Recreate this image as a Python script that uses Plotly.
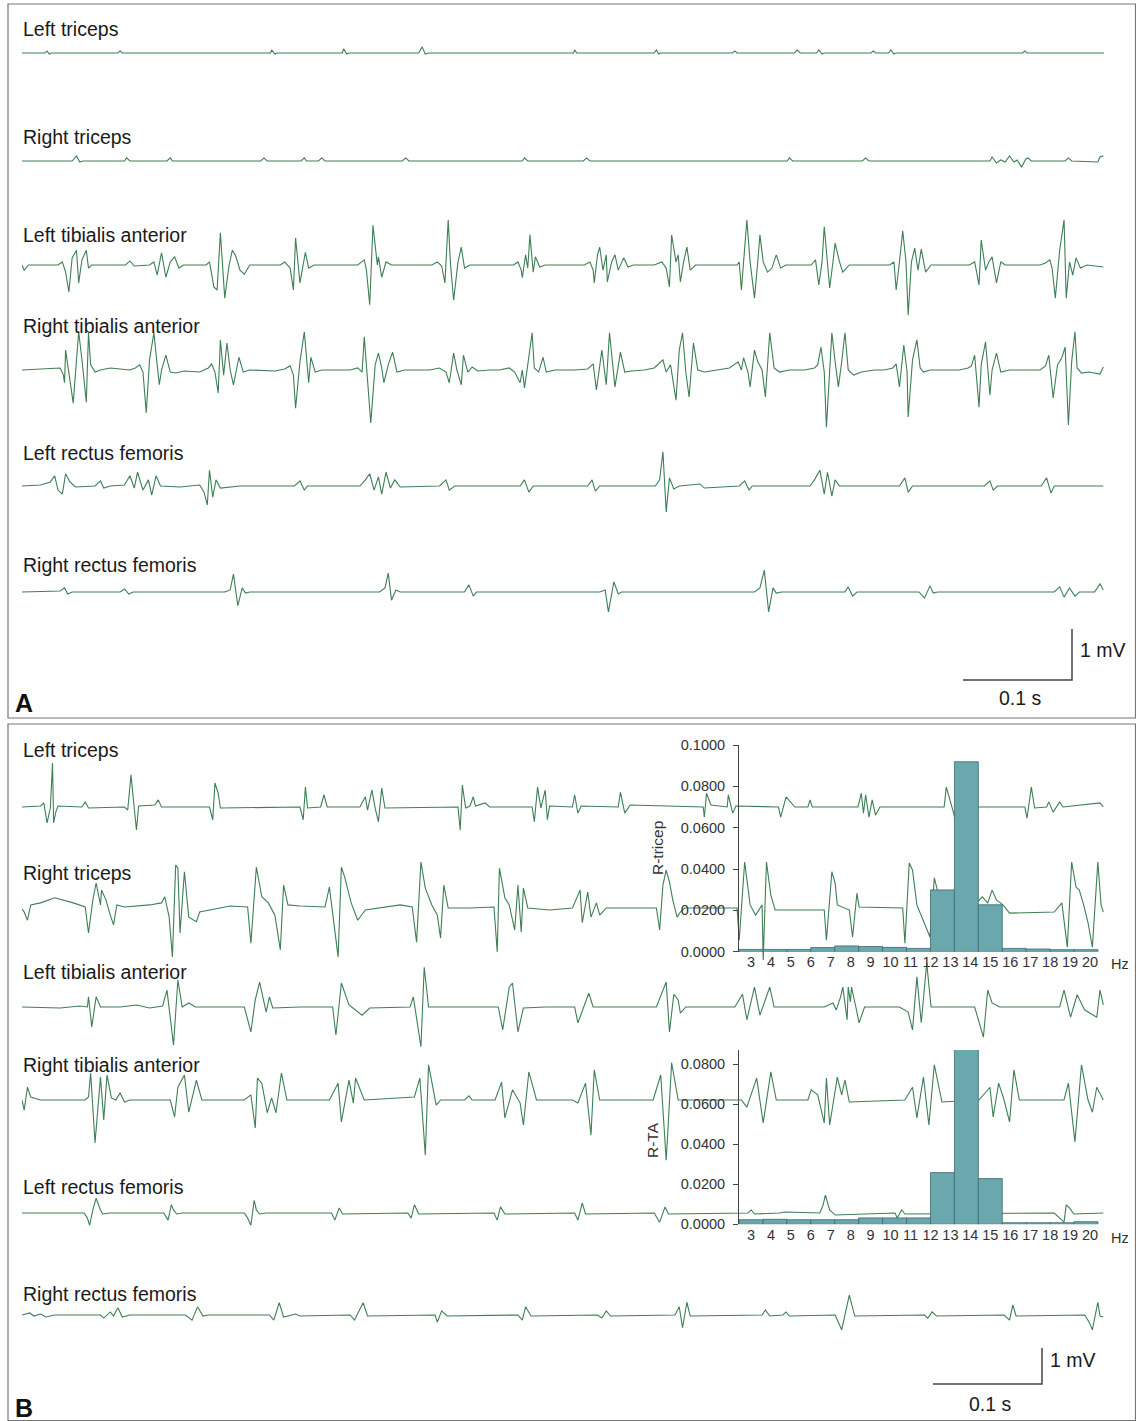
import plotly.graph_objects as go

# ---------------- DATA (time in ms, amplitude in mV) ----------------
A_L_TRICEPS = [(0,0),(21,0),(23,.04),(25,-.02),(27,0),(88,0),(90,.04),(92,0),(228,0),(229,.06),(232,-.02),(234,0),
    (294,0),(295,.08),(298,-.02),(300,0),(364,0),(367,.12),(370,-.02),(373,0),(506,0),(507,.06),(509,0),(580,0),(582,.06),
    (584,-.02),(586,0),(652,0),(654,.04),(656,0),(709,0),(711,.06),(714,0),(729,0),(731,.06),(734,-.02),(736,0),(779,0),
    (781,.04),(783,0),(795,0),(797,.06),(800,-.02),(802,0),(918,0),(920,.04),(922,0),(993,0)]

A_R_TRICEPS = [(0,0),(46,0),(50,.10),(53,-.02),(56,0),(94,0),(96,.06),(99,0),(133,0),(136,.06),(138,0),(219,0),(222,.06),
    (225,0),(256,0),(259,.06),(261,0),(272,0),(275,.06),(278,0),(349,0),(352,.06),(355,0),(459,0),(461,.06),(464,0),(515,0),
    (518,.06),(521,0),(702,0),(704,.06),(707,0),(771,0),(774,.06),(777,0),(888,0),(890,.08),(894,-.04),(898,.02),(902,-.02),
    (906,.10),(910,-.02),(913,.02),(917,-.12),(921,.04),(923,.06),(926,0),(957,0),(960,.06),(963,0),(987,-.02),(989,.08),(992,.10)]

A_L_TA = [(0,0),(2,-.10),(6,0),(33,0),(37,.06),(40,-.14),(43,-.53),(46,.14),(50,.29),(52,-.35),(55,.10),(59,.29),(61,-.06),
    (64,0),(95,0),(99,.08),(103,-.02),(117,0),(121,.06),(124,-.20),(128,.24),(132,-.24),(136,.06),(140,.16),(144,-.06),(148,0),
    (169,0),(172,.06),(176,-.43),(179,-.49),(182,.63),(186,-.65),(190,0),(193,.29),(196,.18),(200,-.10),(204,-.18),(209,0),
    (237,0),(241,.06),(246,-.06),(249,-.49),(251,.53),(255,-.35),(260,.25),(263,-.06),(268,0),(308,0),(314,.10),(316,-.10),
    (319,-.78),(322,.78),(326,0),(327,.16),(330,-.24),(334,.06),(339,0),(376,0),(381,.06),(385,-.02),(388,-.35),(391,.88),
    (393,.06),(396,-.69),(400,.06),(403,.35),(406,-.06),(411,0),(451,0),(455,.06),(458,-.10),(459,-.25),(462,.20),(464,-.06),
    (466,.59),(469,-.14),(471,.16),(475,-.04),(480,0),(516,0),(521,.06),(524,-.10),(525,-.35),(528,.20),(530,.35),(533,-.10),
    (536,.20),(537,-.33),(541,.06),(544,.20),(547,-.10),(552,.14),(556,-.04),(561,0),(580,0),(587,.06),(591,-.06),(594,-.43),
    (596,.59),(600,.06),(602,.20),(604,-.33),(607,.06),(610,.35),(613,-.10),(618,0),(656,0),(658,.06),(660,-.49),(663,.29),
    (665,.88),(668,.06),(672,-.65),(675,.06),(677,.59),(680,.06),(684,-.14),(688,-.06),(692,.20),(696,-.06),(701,0),(724,0),
    (728,.10),(731,-.39),(734,.06),(736,.75),(739,0),(741,-.45),(744,.06),(746,.43),(750,.06),(753,-.14),(759,0),(796,0),
    (800,.06),(802,-.49),(805,.06),(808,.67),(811,.06),(813,-.98),(816,.06),(819,.33),(822,-.10),(825,.31),(829,-.14),(834,0),
    (869,0),(874,.06),(878,-.39),(880,.49),(884,-.10),(887,.06),(890,.16),(894,-.35),(898,.06),(902,0),(934,0),(939,.04),
    (943,.10),(945,-.06),(948,-.65),(952,.29),(956,.88),(958,-.65),(961,.06),(964,-.20),(967,.14),(971,-.06),(977,0),(992,-.04)]

A_R_TA = [(0,0),(26,.02),(35,.04),(38,-.10),(39,-.25),(40,.39),(43,-.04),(47,-.65),(50,.20),(52,.75),(55,.20),(59,-.63),
    (61,.73),(63,.10),(67,-.04),(72,0),(81,.04),(99,0),(104,.04),(108,.10),(111,-.04),(114,-.84),(117,.20),(121,.73),(124,.10),
    (126,-.29),(128,0),(132,.29),(136,-.04),(141,-.06),(149,-.02),(163,-.04),(171,.04),(174,.12),(177,-.04),(180,-.45),(182,.59),
    (185,-.10),(188,.53),(191,0),(194,-.29),(199,.25),(203,-.04),(209,0),(232,-.02),(241,.02),(246,.08),(249,-.10),(251,-.75),
    (255,.16),(259,.75),(263,-.25),(265,.25),(269,-.04),(275,0),(301,0),(308,.04),(312,-.04),(314,.65),(316,.10),(320,-1.04),
    (324,.10),(327,.33),(330,.04),(332,-.25),(336,.10),(340,.35),(344,-.04),(351,0),(374,0),(383,.04),(389,-.04),(392,-.25),
    (396,.33),(399,0),(403,-.29),(405,.29),(409,-.04),(413,.06),(418,-.02),(429,0),(438,0),(447,.04),(452,-.04),(457,-.25),
    (459,0),(461,-.35),(464,.10),(468,.73),(470,.04),(474,-.04),(478,.25),(481,-.04),(489,0),(507,0),(519,.02),(524,.12),
    (527,-.39),(532,.39),(536,-.29),(539,.73),(544,-.33),(549,.35),(553,-.04),(559,-.02),(571,0),(580,.04),(588,.20),(591,-.04),
    (595,.10),(600,-.59),(603,.39),(606,.73),(609,-.04),(612,-.53),(616,.53),(620,0),(626,-.04),(640,0),(649,.04),(657,.16),
    (660,0),(662,.24),(666,-.04),(668,-.33),(672,.39),(675,.16),(679,0),(682,-.53),(686,.73),(690,.04),(695,-.04),(704,0),
    (718,0),(727,.04),(730,.10),(733,.45),(736,-.04),(738,-1.12),(741,.10),(743,.73),(746,.16),(749,-.33),(752,.16),(755,.73),
    (758,0),(763,-.10),(770,-.04),(782,0),(791,0),(799,.04),(802,.12),(805,-.33),(809,.49),(812,-.04),(813,-.92),(817,.20),
    (821,.59),(824,.04),(827,-.04),(833,0),(860,0),(868,.04),(871,.08),(874,.29),(878,-.73),(880,.10),(884,.55),(888,-.49),
    (890,0),(894,.33),(898,-.04),(906,0),(934,0),(939,.08),(942,.29),(946,-.55),(950,.10),(954,.24),(957,.45),(960,-1.08),
    (963,.16),(966,.75),(968,.04),(972,-.06),(979,-.04),(989,-.08),(992,.06)]

A_L_RF = [(0,0),(17,.02),(26,.08),(30,.20),(33,-.08),(37,-.16),(40,.24),(44,.08),(49,-.02),(67,0),(72,.10),(75,-.04),(81,0),
    (94,.02),(99,.20),(103,-.04),(106,.27),(111,-.08),(116,.12),(119,-.18),(123,.20),(127,0),(145,-.02),(163,.02),(167,-.12),
    (170,-.37),(172,.31),(175,-.22),(178,.12),(182,-.04),(200,0),(250,0),(255,.10),(259,-.08),(262,0),(310,0),(315,.12),
    (319,.24),(323,-.08),(327,.18),(330,-.16),(334,.27),(338,-.04),(342,.12),(347,-.02),(383,0),(389,.12),(392,-.08),(397,0),
    (457,0),(461,.12),(465,-.12),(469,0),(519,0),(523,.12),(526,-.10),(530,0),(581,0),(585,.12),(588,.67),(591,-.51),(594,.16),
    (598,-.06),(603,0),(622,.04),(626,-.04),(658,0),(663,.10),(667,-.08),(670,0),(723,0),(727,.12),(732,.31),(736,-.16),
    (739,.27),(743,-.20),(746,.12),(750,0),(805,0),(810,.16),(813,-.12),(817,0),(883,0),(888,.10),(891,-.08),(895,0),(935,0),
    (940,.16),(944,-.14),(947,0),(992,0)]

A_R_RF = [(0,0),(35,.02),(39,.08),(42,-.04),(46,0),(90,0),(94,.06),(98,-.04),(102,0),(186,0),(191,.04),(194,.35),(198,-.27),
    (202,.08),(205,-.02),(209,0),(328,0),(333,.08),(336,.37),(339,-.16),(343,.04),(347,0),(406,0),(410,.14),(414,-.08),(417,0),
    (530,0),(535,.04),(538,-.39),(543,.20),(547,-.04),(550,0),(672,0),(677,.08),(681,.43),(685,-.39),(689,.08),(692,-.02),
    (697,0),(755,0),(758,.10),(762,-.08),(766,0),(823,0),(828,-.12),(833,.12),(836,-.02),(840,0),(947,0),(952,.10),(956,-.10),
    (961,.08),(966,-.08),(970,0),(984,0),(989,.16),(992,.04)]

B_L_TRICEPS = [(0,0),(17,.02),(20,.08),(23,-.31),(26,-.02),(28,.86),(29,-.31),(31,-.10),(33,.02),(55,0),(58,.10),(61,-.02),
    (94,0),(97,-.06),(100,.63),(103,.04),(105,-.45),(107,.02),(122,.04),(125,.14),(128,0),(172,0),(175,-.25),(177,.47),
    (180,.27),(182,-.02),(255,0),(258,-.25),(260,.39),(262,-.02),(274,0),(277,.24),(280,0),(310,0),(315,.20),(317,-.06),
    (321,.33),(324,-.02),(327,-.29),(330,.37),(333,-.02),(400,0),(402,-.45),(404,.43),(407,-.02),(411,.02),(414,.20),(416,.02),
    (425,.08),(429,0),(468,0),(470,-.29),(473,.39),(476,-.02),(480,.33),(482,-.25),(484,.02),(505,0),(507,.24),(510,-.12),
    (513,.02),(547,0),(549,.29),(553,-.12),(558,.04),(625,0),(626,-.20),(628,.27),(632,.04),(647,0),(648,.24),(652,-.12),
    (655,.02),(694,0),(696,-.20),(701,.20),(706,.08),(709,0),(721,0),(723,.14),(725,0),(767,0),(770,.27),(772,-.12),(774,.24),
    (777,-.20),(780,.14),(783,-.16),(787,0),(846,0),(848,.39),(851,.14),(856,-.22),(858,0),(920,0),(922,-.22),(926,.39),
    (929,-.02),(940,0),(942,.10),(946,-.10),(952,.10),(955,0),(989,.08),(992,0)]

B_R_TRICEPS = [(0,0),(2,-.06),(5,-.22),(8,.08),(17,.12),(30,.22),(47,.12),(58,.04),(61,-.47),(65,.18),(68,.51),(72,.08),
    (73,.37),(77,.18),(81,-.12),(84,-.31),(87,.08),(94,.04),(117,.08),(128,.12),(131,.24),(135,-.16),(138,-.94),(141,.86),
    (143,.80),(145,-.47),(149,.73),(153,-.16),(160,-.25),(163,-.06),(191,.06),(207,.04),(210,-.67),(215,.82),(220,.24),
    (226,.12),(232,-.12),(237,-.80),(240,.47),(244,.08),(255,.06),(278,.04),(282,.43),(285,-.12),(290,-.94),(293,.82),
    (296,.63),(302,.12),(308,-.22),(315,-.02),(347,.08),(358,.04),(362,-.65),(366,.92),(370,.41),(376,.08),(381,-.12),
    (384,-.57),(387,.47),(391,.02),(411,.02),(433,.04),(436,-.84),(438,.80),(443,.22),(447,.08),(452,-.41),(455,.47),
    (458,-.45),(460,.41),(464,.02),(484,-.02),(505,.02),(512,.37),(514,-.27),(519,.33),(522,-.16),(527,.12),(530,-.12),
    (536,.02),(582,.02),(585,-.41),(588,.47),(591,.76),(594,.53),(597,.18),(601,-.16),(604,-.06),(608,.02),(656,.02),
    (658,-.61),(663,.92),(668,.08),(673,-.12),(679,.08),(680,-1.0),(683,.92),(687,.27),(691,-.02),(736,-.02),(738,-.61),
    (743,.73),(746,.51),(748,.08),(759,-.02),(762,-.55),(766,.31),(768,.04),(808,.02),(810,-.67),(814,.90),(817,.76),
    (821,.08),(833,-.55),(837,.61),(842,.18),(846,.08),(860,.02),(874,.08),(881,.24),(886,.12),(890,.37),(894,.18),(900,.08),
    (906,-.08),(947,-.06),(954,.12),(959,-.75),(963,.92),(967,.43),(970,.37),(974,.08),(978,-.27),(982,-.75),(987,.92),
    (990,.08),(992,-.06)]

B_L_TA = [(0,0),(35,-.02),(53,.02),(60,0),(61,.20),(64,-.39),(68,.20),(72,0),(90,0),(105,.04),(117,-.02),(129,.02),
    (133,.33),(136,-.25),(139,-.75),(143,.53),(147,0),(153,.08),(159,0),(204,0),(210,-.49),(214,.14),(218,.49),(224,-.10),
    (227,.20),(230,-.02),(255,0),(285,0),(288,-.55),(293,.47),(300,.04),(312,-.16),(319,-.02),(356,0),(359,.20),(366,-.78),
    (369,.78),(373,0),(411,0),(437,0),(441,-.45),(447,.39),(450,.47),(455,-.49),(460,-.02),(480,0),(507,0),(510,-.31),
    (520,.27),(524,0),(576,0),(582,0),(591,.49),(594,-.49),(598,.25),(602,.14),(604,-.12),(609,0),(654,0),(661,.25),
    (665,-.25),(672,.39),(677,-.16),(686,.39),(690,0),(736,0),(744,.08),(747,-.06),(751,.20),(753,.39),(757,-.25),(758,.39),
    (760,.10),(761,.39),(765,0),(768,-.31),(773,0),(805,0),(813,-.10),(817,-.45),(821,.59),(825,-.31),(830,.86),(834,0),
    (874,0),(882,-.59),(886,.33),(890,.08),(897,0),(952,0),(956,.33),(962,-.20),(968,.24),(975,-.06),(986,-.20),(989,.33),
    (992,.04)]

B_R_TA = [(0,0),(2,-.20),(5,.25),(8,.06),(17,0),(58,0),(61,.06),(63,.53),(67,-.84),(72,.45),(75,-.39),(78,.49),(82,.04),
    (86,0),(90,.14),(94,-.04),(99,0),(136,0),(140,-.33),(143,.25),(149,.49),(153,-.24),(160,.39),(165,0),(204,0),(210,.10),
    (214,-.55),(216,.43),(220,.33),(225,-.25),(229,.04),(233,-.25),(238,.53),(243,0),(282,0),(290,.33),(293,-.43),(300,.39),
    (304,-.06),(306,.43),(314,0),(360,.06),(365,.43),(370,-1.08),(373,.69),(380,-.10),(384,0),(406,0),(410,.08),(413,0),
    (434,0),(440,.35),(443,-.35),(450,.20),(457,-.06),(460,-.49),(465,.55),(472,0),(505,0),(510,-.06),(517,.33),(522,-.69),
    (525,.59),(530,0),(579,0),(586,.49),(591,-1.18),(596,.73),(602,0),(660,0),(665,-.14),(674,.43),(680,-.45),(687,.55),
    (692,0),(721,0),(724,.20),(730,.10),(736,-.45),(738,.43),(741,-.49),(748,.45),(752,.10),(755,.39),(759,-.04),(810,0),
    (817,.25),(821,-.35),(827,.45),(832,-.49),(837,.69),(844,-.04),(878,0),(888,.25),(891,-.33),(896,.33),(901,0),(906,-.43),
    (910,.59),(915,0),(956,0),(960,.33),(966,-.82),(972,.69),(978,0),(982,-.24),(986,.25),(992,0)]

B_L_RF = [(0,0),(57,0),(60,-.10),(62,-.24),(65,.06),(68,.29),(72,.06),(74,-.02),(81,0),(130,0),(134,-.14),(137,.16),
    (139,.06),(142,-.02),(147,0),(204,0),(207,-.10),(210,-.24),(213,.25),(215,.06),(218,-.02),(224,0),(284,0),(287,-.14),
    (291,.10),(294,-.02),(354,0),(357,-.10),(360,.16),(364,-.02),(433,0),(436,-.14),(439,.12),(443,-.02),(507,0),(510,-.14),
    (514,.20),(517,-.02),(580,0),(585,-.18),(590,.12),(593,-.02),(666,0),(669,.06),(672,-.02),(695,0),(700,.02),(732,0),
    (735,.16),(737,.35),(741,.06),(746,-.04),(801,0),(803,-.10),(807,.06),(810,-.02),(947,0),(952,-.10),(956,-.18),(958,.16),
    (961,.10),(965,-.02),(992,0)]

B_R_RF = [(0,0),(7,.04),(11,-.02),(17,.02),(22,-.04),(30,0),(72,0),(75,-.06),(81,.06),(84,-.02),(88,.14),(92,-.04),(99,0),
    (150,0),(156,-.10),(161,.16),(166,-.02),(171,0),(227,0),(231,-.10),(236,.24),(240,-.04),(251,.02),(255,-.02),(301,0),
    (305,-.10),(313,.24),(317,-.02),(379,0),(381,-.14),(385,.08),(390,-.02),(455,0),(459,-.10),(462,.16),(467,-.02),(528,0),
    (532,-.06),(536,.08),(540,-.02),(599,0),(603,.16),(606,-.25),(610,.25),(613,-.02),(679,0),(682,.10),(686,-.02),(698,0),
    (701,.06),(704,-.02),(746,0),(752,-.29),(759,.39),(764,-.02),(828,0),(831,-.06),(835,.06),(839,-.02),(901,0),(906,-.10),
    (909,.20),(912,-.02),(975,0),(979,-.14),(982,-.29),(987,.25),(989,-.02),(992,-.04)]

CHANNEL_NAMES = ["Left triceps", "Right triceps", "Left tibialis anterior", "Right tibialis anterior",
                 "Left rectus femoris", "Right rectus femoris"]
PANEL_A = [A_L_TRICEPS, A_R_TRICEPS, A_L_TA, A_R_TA, A_L_RF, A_R_RF]
PANEL_B = [B_L_TRICEPS, B_R_TRICEPS, B_L_TA, B_R_TA, B_L_RF, B_R_RF]

SCALE_TIME_MS = 100   # 0.1 s
SCALE_AMP_MV = 1      # 1 mV

FREQ_HZ = [3.0, 4.2, 5.4, 6.6, 7.8, 9.0, 10.2, 11.4, 12.6, 13.8, 15.0, 16.2, 17.4, 18.6, 19.8]
R_TRICEP = [0.0011, 0.0011, 0.0011, 0.0020, 0.0028, 0.0025, 0.0021, 0.0016, 0.0299, 0.0919, 0.0227, 0.0016, 0.0013, 0.0010, 0.0010]
R_TA = [0.0023, 0.0025, 0.0023, 0.0023, 0.0023, 0.0032, 0.0032, 0.0032, 0.0258, 0.0875, 0.0228, 0.0008, 0.0008, 0.0008, 0.0013]
HZ_TICKS = list(range(3, 21))

# ---------------- LAYOUT ----------------
W, H = 1136, 1421
FONT = "Liberation Sans, Arial, sans-serif"
TRACE_COLOR = "#3f7f55"
PX_PER_MV = 51.0
PX_PER_MS = 1.09
X0, X1 = 22, 1104

def fx(x):
    return x / W

def fy(y):
    return 1 - y / H

fig = go.Figure()
layout = dict(
    width=W, height=H, margin=dict(l=0, r=0, t=0, b=0, pad=0, autoexpand=False),
    paper_bgcolor="white", plot_bgcolor="rgba(0,0,0,0)", showlegend=False,
    xaxis=dict(domain=[fx(X0), fx(X1)], range=[0, (X1 - X0) / PX_PER_MS], visible=False, anchor="y",
               automargin=False),
)

bases = [53, 161, 265, 370, 486, 592, 807, 909, 1007, 1100, 1213, 1315]
label_ys = [29, 137, 235, 326, 453, 565, 750, 873, 972, 1065, 1187, 1294]
all_channels = PANEL_A + PANEL_B
annotations = []

def add_yaxis(k, base):
    half = min(90, base - 1, H - base - 1)
    layout["yaxis" if k == 1 else f"yaxis{k}"] = dict(
        domain=[fy(base + half), fy(base - half)], automargin=False,
        range=[-half / PX_PER_MV, half / PX_PER_MV], visible=False, anchor="x")

for i, (data, base) in enumerate(zip(all_channels, bases)):
    k = i + 1
    add_yaxis(k, base)
    fig.add_trace(go.Scatter(x=[p[0] for p in data], y=[p[1] for p in data], mode="lines",
                             line=dict(color=TRACE_COLOR, width=1.1), xaxis="x",
                             yaxis="y" if k == 1 else f"y{k}", hoverinfo="skip"))
    annotations.append(dict(text=CHANNEL_NAMES[i % 6], x=fx(21), y=fy(label_ys[i]), xref="paper", yref="paper",
                            xanchor="left", yanchor="middle", showarrow=False,
                            font=dict(family=FONT, size=19.5, color="#1a1a1a")))

# scale bars
scale_specs = [(13, 680, 963, 1078, 650, 1020, 698), (14, 1384, 933, 1048, 1360, 990, 1404)]
for k, base, xstart, mv_x, mv_y, s_x, s_y in scale_specs:
    add_yaxis(k, base)
    t0 = (xstart - X0) / PX_PER_MS
    fig.add_trace(go.Scatter(x=[t0, t0 + SCALE_TIME_MS, t0 + SCALE_TIME_MS], y=[0, 0, SCALE_AMP_MV],
                             mode="lines", line=dict(color="#444444", width=1.5), xaxis="x", yaxis=f"y{k}",
                             hoverinfo="skip"))
    annotations.append(dict(text=f"{SCALE_AMP_MV} mV", x=fx(mv_x), y=fy(mv_y), xref="paper", yref="paper",
                            xanchor="left", yanchor="middle", showarrow=False,
                            font=dict(family=FONT, size=19.5, color="#1a1a1a")))
    annotations.append(dict(text=f"{SCALE_TIME_MS / 1000:g} s", x=fx(s_x), y=fy(s_y), xref="paper", yref="paper",
                            xanchor="center", yanchor="middle", showarrow=False,
                            font=dict(family=FONT, size=19.5, color="#1a1a1a")))

# bar charts
bar_specs = [("x2", "y15", R_TRICEP, 951.7, 745, 0.1, "R-tricep", 657, 848, 964),
             ("x3", "y16", R_TA, 1224.3, 1050, 0.087, "R-TA", 652, 1140, 1238)]
for xa, ya, vals, ybot, ytop, ymax, title, tx, ty, hz_y in bar_specs:
    xk = "xaxis" + xa[1:]
    yk = "yaxis" + ya[1:]
    layout[xk] = dict(domain=[fx(739), fx(1103)], range=[2.4, 20.65], anchor=ya, tickvals=HZ_TICKS,
                      ticks="", showline=False, showgrid=False, zeroline=False, automargin=False,
                      tickfont=dict(family=FONT, size=14.5, color="#333333"))
    ticks = [v / 100 for v in range(0, int(ymax * 100 + 1e-9) + 1, 2)]
    layout[yk] = dict(domain=[fy(ybot), fy(ytop)], range=[0, ymax], anchor=xa, tickvals=ticks,
                      tickformat=".4f", ticks="outside", ticklen=5, tickcolor="#444444",
                      ticklabelstandoff=5, automargin=False,
                      showline=True, linecolor="#444444", linewidth=1, showgrid=False, zeroline=False,
                      tickfont=dict(family=FONT, size=14.5, color="#333333"))
    fig.add_trace(go.Bar(x=FREQ_HZ, y=vals, width=1.2, xaxis=xa, yaxis=ya,
                         marker=dict(color="#6aa8ae", line=dict(color="#3a6970", width=0.8)), hoverinfo="skip"))
    annotations.append(dict(text=title, x=fx(tx), y=fy(ty), xref="paper", yref="paper", textangle=-90,
                            xanchor="center", yanchor="middle", showarrow=False,
                            font=dict(family=FONT, size=15.5, color="#333333")))
    annotations.append(dict(text="Hz", x=fx(1109), y=fy(hz_y), xref="paper", yref="paper",
                            xanchor="left", yanchor="middle", showarrow=False,
                            font=dict(family=FONT, size=14.5, color="#333333")))

# panel letters
for letter, ly in [("A", 703), ("B", 1408)]:
    annotations.append(dict(text=f"<b>{letter}</b>", x=fx(13), y=fy(ly), xref="paper", yref="paper",
                            xanchor="left", yanchor="middle", showarrow=False,
                            font=dict(family=FONT, size=25, color="#111111")))

layout["annotations"] = annotations
layout["shapes"] = [
    dict(type="rect", xref="paper", yref="paper", x0=fx(8), y0=fy(718), x1=fx(1135.5), y1=fy(4),
         line=dict(color="#777777", width=1.2)),
    dict(type="rect", xref="paper", yref="paper", x0=fx(8), y0=fy(1420.5), x1=fx(1135.5), y1=fy(724),
         line=dict(color="#777777", width=1.2)),
]
fig.update_layout(**layout)
fig.write_html("out.html")
